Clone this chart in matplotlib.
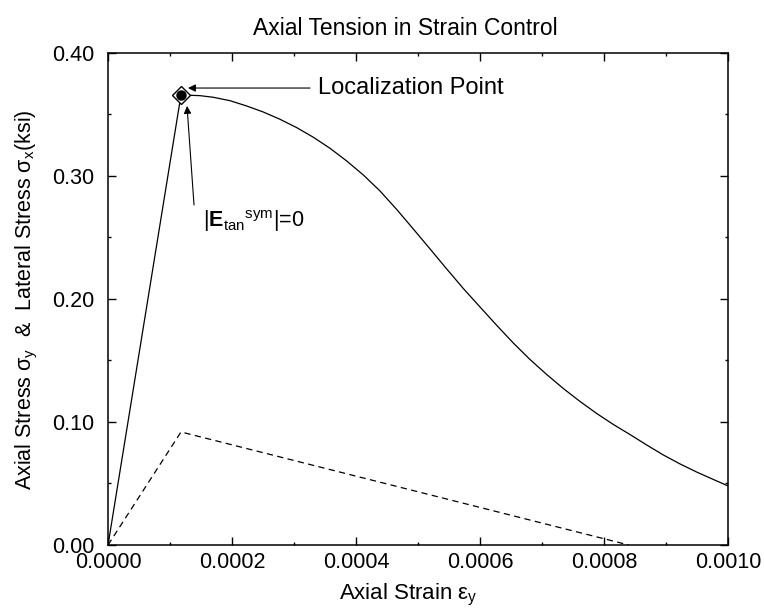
import matplotlib
matplotlib.use("Agg")
import matplotlib.pyplot as plt
from matplotlib.ticker import MultipleLocator, FormatStrFormatter

plt.rcParams['font.family'] = ['Liberation Sans', 'DejaVu Sans']
plt.rcParams['mathtext.fontset'] = 'custom'
plt.rcParams['mathtext.rm'] = 'Liberation Sans'
plt.rcParams['mathtext.it'] = 'Liberation Sans'
plt.rcParams['mathtext.bf'] = 'Liberation Sans:bold'

# axial stress curve (solid)
strain_axial = [0.0, 0.0001177, 0.0001484, 0.0001698, 0.0001968, 0.0002237, 0.0002505,
                0.0002774, 0.0003044, 0.0003311, 0.0003581, 0.000385, 0.0004118,
                0.0004387, 0.0004656, 0.0004924, 0.0005194, 0.0005463, 0.0005731,
                0.0006, 0.0006269, 0.0006537, 0.0006806, 0.0007076, 0.0007344,
                0.0007613, 0.0007882, 0.000815, 0.0008419, 0.0008689, 0.0008956,
                0.0009226, 0.0009495, 0.0009763, 0.001]
stress_axial = [0.0, 0.3659, 0.3653, 0.3640, 0.3612, 0.3569, 0.3520,
                0.3461, 0.3393, 0.3315, 0.3225, 0.3122, 0.3008,
                0.2878, 0.2728, 0.2569, 0.2407, 0.2244, 0.2085,
                0.1935, 0.1786, 0.1642, 0.1508, 0.1386, 0.1272,
                0.1167, 0.1069, 0.0980, 0.0898, 0.0813, 0.0732,
                0.0659, 0.0593, 0.0533, 0.048]

# lateral stress (dashed)
strain_lat = [0.0, 0.0001177, 0.00084]
stress_lat = [0.0, 0.0919, 0.0]

loc_point = (0.0001177, 0.3659)

fig = plt.figure(figsize=(7.64, 6.09), dpi=100)
ax = fig.add_axes([0.1414, 0.1051, 0.8115, 0.8079])

ax.plot(strain_axial, stress_axial, color='k', lw=0.9)
ax.plot(strain_lat, stress_lat, color='k', lw=0.9, dashes=(5, 3.5))

ax.plot(*loc_point, marker='D', ms=9.5, mfc='white', mec='k', mew=1.0, zorder=5)
ax.plot(*loc_point, marker='o', ms=6.5, mfc='k', mec='k', zorder=6)

arrow = dict(arrowstyle='-|>', color='k', lw=0.8, mutation_scale=11,
             shrinkA=0, shrinkB=0)
ax.annotate('', xy=(0.000129, 0.3715), xytext=(0.0003258, 0.3715), arrowprops=arrow)
ax.text(0.000339, 0.3715, 'Localization Point', fontsize=17, va='center', ha='left')

ax.annotate('', xy=(0.0001274, 0.3569), xytext=(0.0001387, 0.2764), arrowprops=arrow)
ax.text(0.0001532, 0.2585, r'|$\mathbf{E}_{\rm tan}{}^{\rm sym}$|=0', fontsize=15.5,
        va='baseline', ha='left')

ax.set_xlim(0, 0.001)
ax.set_ylim(0, 0.40)
ax.xaxis.set_major_locator(MultipleLocator(0.0002))
ax.xaxis.set_minor_locator(MultipleLocator(0.0001))
ax.yaxis.set_major_locator(MultipleLocator(0.1))
ax.yaxis.set_minor_locator(MultipleLocator(0.05))
ax.xaxis.set_major_formatter(FormatStrFormatter('%.4f'))
ax.yaxis.set_major_formatter(FormatStrFormatter('%.2f'))

ax.tick_params(which='both', direction='in', top=True, right=True, labelsize=15.5)
ax.tick_params(which='major', length=5.5, width=1.0)
ax.tick_params(which='minor', length=2.5, width=1.0)
ax.tick_params(axis='y', pad=10)
ax.tick_params(axis='x', pad=5)
for s in ax.spines.values():
    s.set_linewidth(1.1)

ax.set_xlabel(r'Axial Strain ε$_{\rm y}$', fontsize=16)
ax.xaxis.set_label_coords(0.484, -0.074)
ax.set_ylabel(r'Axial Stress σ$_{\rm y}$  &  Lateral Stress σ$_{\rm x}$(ksi)', fontsize=15.5)
ax.yaxis.set_label_coords(-0.11, 0.498)

fig.text(0.530, 0.953, 'Axial Tension in Strain Control', fontsize=16.5,
         ha='center', va='center')

fig.savefig('out.png', dpi=100)
